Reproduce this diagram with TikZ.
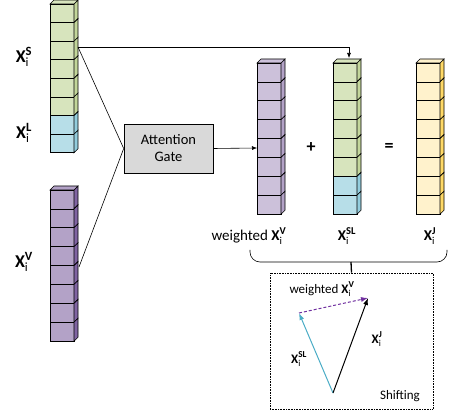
\documentclass[tikz,border=0pt]{standalone}
\usepackage{fontspec}
\setmainfont{Carlito}
\usepackage{amsmath}
\usetikzlibrary{arrows.meta,calc,positioning}
\definecolor{Sgreen}{HTML}{D7E4BD}
\definecolor{SgreenSide}{HTML}{C3D69B}
\definecolor{Lblue}{HTML}{B7DEE8}
\definecolor{LblueSide}{HTML}{93CDDD}
\definecolor{Vpurple}{HTML}{B3A2C7}
\definecolor{VpurpleSide}{HTML}{8064A2}
\definecolor{Wpurple}{HTML}{CCC1DA}
\definecolor{WpurpleSide}{HTML}{B3A2C7}
\definecolor{Jyellow}{HTML}{FFF2CC}
\definecolor{JyellowSide}{HTML}{FFD966}
\definecolor{Gategray}{HTML}{D9D9D9}
\definecolor{Cyanarrow}{HTML}{4BACC6}
\definecolor{Dotpurple}{HTML}{7030A0}

\newcommand{\xlab}[1]{$\textbf{X}^{\textbf{#1}}_{\text{i}}$}
% one cell of a feature column: x, y, height, front, side
\newcommand{\cellbox}[5]{%
  \draw[fill=#4] (#1,#2) rectangle ({#1+24},{#2+#3});
  \draw[fill=#5] ({#1+24},#2) -- ({#1+28},{#2-4}) -- ({#1+28},{#2+#3-4}) -- ({#1+24},{#2+#3}) -- cycle;
}
% top face of a column: x, y, colour
\newcommand{\celltop}[3]{%
  \draw[fill=#3] (#1,#2) -- ({#1+4},{#2-4}) -- ({#1+28},{#2-4}) -- ({#1+24},#2) -- cycle;
}

\begin{document}
\begin{tikzpicture}[x=1pt,y=-1pt,line width=0.6pt,
  lab/.style={font=\fontsize{18}{20}\selectfont},
  sublab/.style={font=\fontsize{15}{17}\selectfont},
  inlab/.style={font=\fontsize{13}{15}\selectfont},
  tip/.style={-{Latex[length=5pt,width=4pt]}},
  bigtip/.style={-{Latex[length=7pt,width=5pt]}}]
\useasboundingbox (0,0) rectangle (449,419);
%
% input columns
\foreach \i in {0,...,5} {\cellbox{50}{4+\i*18.6}{18.6}{Sgreen}{SgreenSide}}
\foreach \i in {6,7} {\cellbox{50}{4+\i*18.6}{18.6}{Lblue}{LblueSide}}
\celltop{50}{4}{Sgreen}
\foreach \i in {0,...,7} {\cellbox{50}{190+\i*18.9}{18.9}{Vpurple}{VpurpleSide}}
\celltop{50}{190}{Vpurple}
\node[lab] (xs) at (24,57) {\xlab{S}};
\node[lab] (xl) at (24,133) {\xlab{L}};
\node[lab] (xv) at (24,262) {\xlab{V}};
%
% output columns
\foreach \i in {0,...,7} {\cellbox{257}{63+\i*18.9}{18.9}{Wpurple}{WpurpleSide}}
\celltop{257}{63}{Wpurple}
\foreach \i in {0,...,5} {\cellbox{333}{63+\i*18.9}{18.9}{Sgreen}{SgreenSide}}
\foreach \i in {6,7} {\cellbox{333}{63+\i*18.9}{18.9}{Lblue}{LblueSide}}
\celltop{333}{63}{Sgreen}
\foreach \i in {0,...,7} {\cellbox{416}{63+\i*18.9}{18.9}{Jyellow}{JyellowSide}}
\celltop{416}{63}{Jyellow}
\node[font=\bfseries\fontsize{18}{20}\selectfont] (plus) at (311,148) {+};
\node[font=\bfseries\fontsize{18}{20}\selectfont] (eq) at (389,147) {=};
\node[sublab] (wlab) at (249,236) {weighted \xlab{V}};
\node[sublab] (sllab) at (347,236) {\xlab{SL}};
\node[sublab] (jlab) at (430,236) {\xlab{J}};
%
% gate and connectors
\node[draw, fill=Gategray, minimum width=89pt, minimum height=49pt, align=center,
  font=\fontsize{14.5}{17}\selectfont] (gate) at (168.5,148.5) {Attention\\Gate};
\coordinate (sOut) at (78,47);
\coordinate (vOut) at (79,267);
\coordinate (wIn) at (257,148);
\coordinate (slTop) at (349,58);
\draw (sOut) -- (gate.west);
\draw (vOut) -- (gate.west);
\draw[tip] (sOut) -| (slTop);
\draw[tip] (gate.east) -- (wIn);
%
% brace and shifting box
\coordinate (braceMid) at (351,262);
\draw[rounded corners=10pt] (250,250) -- (250,262) -- (447,262) -- (447,250);
\node[draw, densely dotted, minimum width=163pt, minimum height=136pt] (shiftbox) at (351.5,341) {};
\draw[line width=1.3pt] (braceMid) -- (shiftbox.north);
\coordinate (org) at (333,393);
\coordinate (tipSL) at (299,313);
\coordinate (tipJ) at (368,298);
\draw[bigtip, Cyanarrow, line width=1pt] (org) -- (tipSL);
\draw[bigtip, line width=1pt] (org) -- (tipJ);
\draw[bigtip, Dotpurple, densely dashed, line width=1pt] (tipSL) -- (tipJ);
\node[inlab] (wv2) at (322,289) {weighted \xlab{V}};
\node[inlab] (sl2) at (299,359) {\xlab{SL}};
\node[inlab] (j2) at (377,339) {\xlab{J}};
\node[inlab] (shift) at (400,396) {Shifting};
%
\end{tikzpicture}
\end{document}
